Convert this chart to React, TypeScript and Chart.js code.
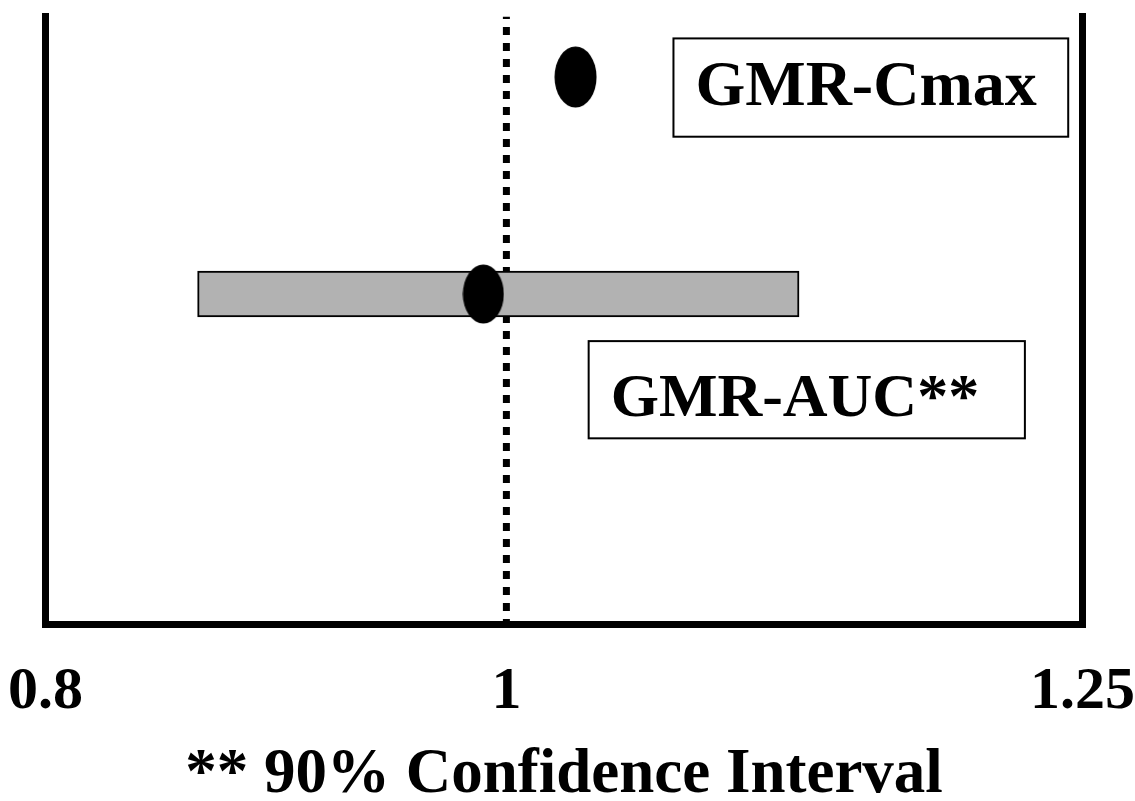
import React, { useEffect, useRef } from 'react';
import { Chart, registerables } from 'chart.js';

Chart.register(...registerables);

// ---- data ----
const parameters = ['GMR-Cmax', 'GMR-AUC**'];
const rowPositions = [2, 1];
const gmrValues = [1.03, 0.99];
const ciLower: (number | null)[] = [null, 0.866];
const ciUpper: (number | null)[] = [null, 1.127];
const referenceValue = 1;
const xTickValues = [0.8, 1, 1.25];
const xTickLabels = ['0.8', '1', '1.25'];
const xAxisTitle = '** 90% Confidence Interval';

// ---- layout ----
const X_MIN = 0.8;
const X_MAX = 1.25;
const Y_MIN = -0.523;
const Y_MAX = 2.279;
const FONT = "'Liberation Serif', 'Times New Roman', serif";

const labelBoxes = [
  { row: 0, x0: 1.0725, x1: 1.2438, y0: 2.178, y1: 1.725, textY: 1.871, size: 64 },
  { row: 1, x0: 1.0357, x1: 1.225, y0: 0.783, y1: 0.335, textY: 0.438, size: 62 },
];

function makeEllipse(w: number, h: number) {
  const c = document.createElement('canvas');
  c.width = w;
  c.height = h;
  const ctx = c.getContext('2d')!;
  ctx.fillStyle = '#000';
  ctx.beginPath();
  ctx.ellipse(w / 2, h / 2, w / 2 - 0.5, h / 2 - 0.5, 0, 0, Math.PI * 2);
  ctx.fill();
  return c;
}

const labelBoxPlugin = {
  id: 'labelBoxes',
  afterDatasetsDraw(chart: any) {
    const { ctx } = chart;
    const x = chart.scales.x;
    const y = chart.scales.y;
    ctx.save();
    labelBoxes.forEach((b) => {
      const left = x.getPixelForValue(b.x0);
      const right = x.getPixelForValue(b.x1);
      const top = y.getPixelForValue(b.y0);
      const bottom = y.getPixelForValue(b.y1);
      ctx.fillStyle = '#fff';
      ctx.fillRect(left, top, right - left, bottom - top);
      ctx.lineWidth = 2;
      ctx.strokeStyle = '#000';
      ctx.strokeRect(left, top, right - left, bottom - top);
      ctx.font = `bold ${b.size}px ${FONT}`;
      ctx.fillStyle = '#000';
      ctx.textAlign = 'left';
      ctx.textBaseline = 'alphabetic';
      ctx.fillText(parameters[b.row], left + 22, y.getPixelForValue(b.textY));
    });
    ctx.restore();
  },
};

export default function App() {
  const canvasRef = useRef<HTMLCanvasElement | null>(null);

  useEffect(() => {
    if (!canvasRef.current) return;
    const ellipses = [makeEllipse(43, 62), makeEllipse(42, 60)];

    const pointData = gmrValues.map((v, i) => ({ x: v, y: rowPositions[i] }));
    const barData: any[] = [];
    ciLower.forEach((lo, i) => {
      const hi = ciUpper[i];
      if (lo !== null && hi !== null) barData.push({ x: [lo, hi], y: rowPositions[i] });
    });

    const axisGrid = { display: false, drawTicks: false, lineWidth: 7, offset: false };
    const axisBorder = { display: true, color: '#000', width: 7 };

    const chart = new Chart(canvasRef.current, {
      type: 'bar',
      data: {
        datasets: [
          {
            type: 'scatter',
            label: 'GMR',
            data: pointData,
            pointStyle: ellipses,
            pointRadius: 21,
            pointHoverRadius: 21,
            xAxisID: 'x',
            yAxisID: 'y',
            order: 0,
          } as any,
          {
            type: 'bar',
            label: '90% CI',
            data: barData,
            backgroundColor: '#b2b2b2',
            borderColor: '#000',
            borderWidth: 2,
            borderSkipped: false,
            barThickness: 46,
            xAxisID: 'x',
            yAxisID: 'y',
            order: 1,
          } as any,
          {
            type: 'line',
            label: 'Reference',
            data: [
              { x: referenceValue, y: Y_MAX },
              { x: referenceValue, y: Y_MIN },
            ],
            borderColor: '#000',
            borderWidth: 7,
            borderDash: [8, 8],
            borderDashOffset: 5.5,
            pointRadius: 0,
            fill: false,
            xAxisID: 'x',
            yAxisID: 'y',
            order: 2,
          } as any,
        ],
      },
      options: {
        indexAxis: 'y',
        responsive: false,
        animation: false,
        events: [],
        layout: { autoPadding: false, padding: { left: 45.5, right: 44.5, top: 16.5, bottom: 0 } },
        plugins: {
          legend: { display: false },
          tooltip: { enabled: false },
          title: { display: false },
        },
        scales: {
          x: {
            type: 'linear',
            position: 'bottom',
            min: X_MIN,
            max: X_MAX,
            offset: false,
            afterBuildTicks: (scale: any) => {
              scale.ticks = xTickValues.map((v) => ({ value: v }));
            },
            ticks: {
              autoSkip: false,
              maxRotation: 0,
              minRotation: 0,
              padding: 0,
              color: '#000',
              font: { family: FONT, size: 60, weight: 'bold' },
              callback: (value: any) => {
                const i = xTickValues.indexOf(Number(value));
                return i >= 0 ? xTickLabels[i] : '';
              },
            },
            grid: { display: false, drawTicks: true, tickLength: 31.5, lineWidth: 7, offset: false },
            border: axisBorder,
            title: {
              display: true,
              text: xAxisTitle,
              color: '#000',
              font: { family: FONT, size: 63, weight: 'bold', lineHeight: 0.8 },
              padding: { top: 22.6, bottom: 0 },
            },
          },
          y: {
            type: 'linear',
            axis: 'y',
            position: 'left',
            min: Y_MIN,
            max: Y_MAX,
            offset: false,
            ticks: { display: false },
            grid: axisGrid,
            border: axisBorder,
          },
          y2: {
            type: 'linear',
            axis: 'y',
            position: 'right',
            min: Y_MIN,
            max: Y_MAX,
            offset: false,
            ticks: { display: false },
            grid: axisGrid,
            border: axisBorder,
          },
        },
      } as any,
      plugins: [labelBoxPlugin],
    });

    return () => chart.destroy();
  }, []);

  return (
    <div style={{ position: 'fixed', left: 0, top: 0, width: 1135, height: 801, background: '#fff' }}>
      <canvas ref={canvasRef} width={1135} height={801} style={{ width: 1135, height: 801, display: 'block' }} />
    </div>
  );
}
